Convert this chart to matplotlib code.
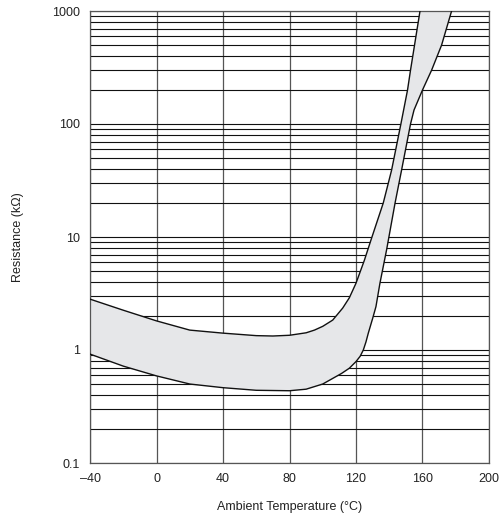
"""
Resistance vs ambient temperature band (PTC thermistor style chart).
"""

import numpy as np  # numerical computing
import matplotlib
matplotlib.use("Agg")
import matplotlib.pyplot as plt  # plotting
from matplotlib.ticker import FixedLocator, FixedFormatter, LogLocator, NullFormatter

# ============================================================
# Data (temperature in °C, resistance in kΩ)
# ============================================================
T_UPPER = [-40, -20, 0, 20, 40, 60, 70, 80, 90, 95, 100, 106, 112, 116,
           120, 125, 129, 136.4, 141.4, 147, 151, 152.8, 158.5]
R_UPPER = [2.82, 2.25, 1.81, 1.50, 1.41, 1.34, 1.33, 1.35, 1.42, 1.5, 1.62,
           1.84, 2.35, 2.9, 3.9, 6.2, 9.4, 20, 39, 100, 200, 300, 1000]

T_LOWER = [-40, -20, 0, 20, 40, 60, 80, 90, 100, 105, 111.3, 116, 120,
           122.5, 124.4, 126, 127.4, 130, 132, 134.4, 138.4, 143.5, 147.4,
           152.8, 154.9, 160, 165.5, 171.5, 177.5]
R_LOWER = [0.92, 0.72, 0.59, 0.50, 0.464, 0.44, 0.436, 0.45, 0.50, 0.55,
           0.62, 0.69, 0.79, 0.88, 1.0, 1.18, 1.41, 1.9, 2.42, 3.9, 7.7, 20,
           39, 100, 133, 200, 300, 500, 1000]

X_TICKS = [-40, 0, 40, 80, 120, 160, 200]
X_LABELS = ["\u201340", "0", "40", "80", "120", "160", "200"]
Y_TICKS = [0.1, 1, 10, 100, 1000]
Y_LABELS = ["0.1", "1", "10", "100", "1000"]

# ============================================================
# Figure
# ============================================================
plt.rcParams["font.family"] = ["Liberation Sans", "DejaVu Sans"]
fig = plt.figure(figsize=(5.01, 5.2), dpi=100)
ax = fig.add_axes([90 / 501, 1 - 463 / 520, 399 / 501, 452 / 520])

ax.set_yscale("log")
ax.set_xlim(-40, 200)
ax.set_ylim(0.1, 1000)

# --- grid: every 40 °C, every log minor step ---
ax.xaxis.set_major_locator(FixedLocator(X_TICKS))
ax.xaxis.set_major_formatter(FixedFormatter(X_LABELS))
ax.yaxis.set_major_locator(FixedLocator(Y_TICKS))
ax.yaxis.set_major_formatter(FixedFormatter(Y_LABELS))
ax.yaxis.set_minor_locator(LogLocator(base=10, subs=np.arange(2, 10)))
ax.yaxis.set_minor_formatter(NullFormatter())
ax.grid(True, which="major", axis="x", color="#555555", lw=0.9)
ax.grid(True, which="both", axis="y", color="#111111", lw=0.8)
ax.tick_params(which="both", length=0, labelsize=9, colors="#222222")
ax.tick_params(axis="x", pad=7)
ax.tick_params(axis="y", pad=7)
for side in ax.spines.values():
    side.set_color("#555555")
    side.set_linewidth(0.9)
ax.set_axisbelow(True)

# --- shaded band between the two boundary curves ---
band_x = np.concatenate([T_UPPER, T_LOWER[::-1]])
band_y = np.concatenate([R_UPPER, R_LOWER[::-1]])
ax.fill(band_x, band_y, color="#e6e7e9", zorder=2, lw=0)
ax.plot(T_UPPER, R_UPPER, color="#111111", lw=1.0, zorder=3)
ax.plot(T_LOWER, R_LOWER, color="#111111", lw=1.0, zorder=3)

ax.set_xlabel("Ambient Temperature (\u00b0C)", fontsize=9, labelpad=12,
              color="#222222")
ax.set_ylabel("Resistance (k\u03a9)", fontsize=9, labelpad=20, color="#222222")

fig.savefig("out.png", dpi=100)
